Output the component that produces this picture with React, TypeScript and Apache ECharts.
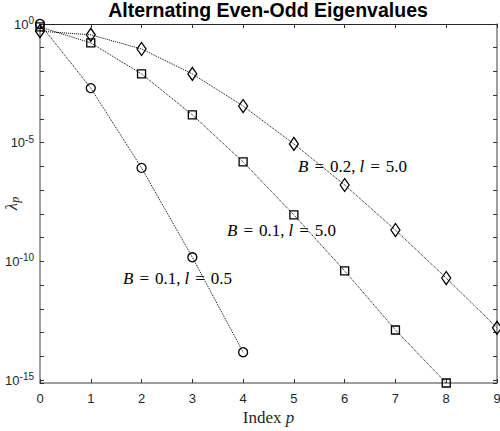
import React, { useEffect, useRef } from "react";
import * as echarts from "echarts";

const indices = [0, 1, 2, 3, 4, 5, 6, 7, 8, 9];
const seriesB01L05 = [1.0, 2.0e-3, 8.7e-7, 1.5e-10, 1.5e-14];
const seriesB01L50 = [0.75, 0.16, 7.9e-3, 1.5e-4, 1.55e-6, 9.1e-9, 4.0e-11, 1.3e-13, 7.6e-16];
const seriesB02L50 = [0.5, 0.35, 0.089, 7.9e-3, 3.5e-4, 8.9e-6, 1.66e-7, 2.1e-9, 2.0e-11, 1.6e-13];
const yMin = 7.6e-16;
const yMax = 1;
const labelDecades = [0, 5, 10, 15];

const toPairs = (vals: number[]) => vals.map((v, i) => [indices[i], v]);

// decade axis: value d means 10^-d (inverse so that 0 is at the top)
const decadeSpan = -Math.log10(yMin);
const decadeFormatter = (d: number) => {
  const r = Math.round(d);
  if (Math.abs(d - r) < 1e-6 && labelDecades.includes(r)) {
    return "10{sup|" + (r === 0 ? "0" : "-" + r) + "}";
  }
  return "";
};

export default function App() {
  const ref = useRef<HTMLDivElement>(null);
  useEffect(() => {
    if (!ref.current) return;
    const chart = echarts.init(ref.current, null, { renderer: "svg" });
    const serif = "'Liberation Serif', 'DejaVu Serif', serif";
    const sans = "'Liberation Sans', Arial, sans-serif";
    const lineStyle = { color: "#000", width: 1, type: "dotted" as const };
    const itemStyle = { color: "rgba(0,0,0,0)", borderColor: "#000", borderWidth: 1.3 };
    const mk = (name: string, vals: number[], symbol: string, size: any) => ({
      name,
      type: "line",
      xAxisIndex: 0,
      yAxisIndex: 1,
      data: toPairs(vals),
      symbol,
      symbolSize: size,
      showAllSymbol: true,
      lineStyle,
      itemStyle,
      clip: false,
      z: 3,
    });
    const annRich = {
      i: { fontFamily: serif, fontStyle: "italic", fontSize: 17, color: "#000" },
      n: { fontFamily: serif, fontSize: 17, color: "#000" },
      eq: { fontFamily: serif, fontSize: 17, color: "#000", padding: [0, 6, 0, 6] },
      c: { fontFamily: serif, fontSize: 17, color: "#000", padding: [0, 4, 0, 0] },
    };
    const ann = (x: number, y: number, b: string, l: string) => ({
      type: "text",
      x,
      y,
      z: 10,
      style: {
        text: "{i|B}{eq|=}{n|" + b + "}{c|,}{i|l}{eq|=}{n|" + l + "}",
        rich: annRich,
        verticalAlign: "middle",
      },
    });
    const decadeAxis = (position: string, showLabels: boolean, extra: any) => ({
      type: "value",
      position,
      inverse: true,
      min: 0,
      max: decadeSpan,
      interval: 1,
      axisLine: { show: true, onZero: false, lineStyle: { color: "#7f7f7f", width: 1.5 } },
      axisTick: { show: true, inside: true, length: 4, lineStyle: { color: "#333" } },
      axisLabel: showLabels
        ? {
            fontFamily: sans,
            fontSize: 13,
            color: "#262626",
            margin: 6,
            formatter: decadeFormatter,
            rich: { sup: { fontFamily: sans, fontSize: 10, verticalAlign: "top", padding: [0, 0, 7, 0], color: "#262626" } },
          }
        : { show: false },
      splitLine: { show: false },
      ...extra,
    });
    chart.setOption({
      animation: false,
      backgroundColor: "#fff",
      grid: { left: 40, right: 3, top: 24, bottom: 48, containLabel: false, outerBoundsMode: "none" },
      xAxis: [
        {
          type: "value",
          min: 0,
          max: 9,
          interval: 1,
          name: "Index {i|p}",
          nameLocation: "middle",
          nameGap: 26,
          nameMoveOverlap: false,
          nameTextStyle: {
            fontFamily: serif,
            fontSize: 17,
            color: "#262626",
            rich: { i: { fontFamily: serif, fontStyle: "italic", fontSize: 17, color: "#262626" } },
          },
          axisLine: { show: true, onZero: false, lineStyle: { color: "#7f7f7f", width: 1.5 } },
          axisTick: { show: true, inside: true, length: 4, lineStyle: { color: "#333" } },
          axisLabel: { fontFamily: sans, fontSize: 13, color: "#262626", margin: 9 },
          splitLine: { show: false },
        },
        {
          type: "value",
          position: "top",
          min: 0,
          max: 9,
          interval: 1,
          axisLine: { show: true, onZero: false, lineStyle: { color: "#262626", width: 1 } },
          axisTick: { show: true, inside: true, length: 4, lineStyle: { color: "#333" } },
          axisLabel: { show: false },
          splitLine: { show: false },
        },
      ],
      yAxis: [
        decadeAxis("left", true, {
          name: "λ{sub|p}",
          nameLocation: "middle",
          nameGap: 19,
          nameRotate: 90,
          nameMoveOverlap: false,
          nameTextStyle: {
            fontFamily: serif,
            fontStyle: "italic",
            fontSize: 17,
            color: "#262626",
            rich: { sub: { fontFamily: serif, fontStyle: "italic", fontSize: 12, verticalAlign: "bottom", padding: [8, 0, 0, 0], color: "#262626" } },
          },
        }),
        {
          type: "log",
          logBase: 10,
          position: "left",
          min: yMin,
          max: yMax,
          axisLine: { show: false },
          axisTick: { show: false },
          axisLabel: { show: false },
          splitLine: { show: false },
        },
        decadeAxis("right", false, {}),
      ],
      series: [
        mk("B=0.1, l=0.5", seriesB01L05, "circle", 9),
        mk("B=0.1, l=5.0", seriesB01L50, "rect", 8),
        mk("B=0.2, l=5.0", seriesB02L50, "diamond", [9, 13]),
      ],
      graphic: [
        {
          type: "text",
          x: 268,
          y: 10,
          z: 10,
          style: {
            text: "Alternating Even-Odd Eigenvalues",
            fontFamily: sans,
            fontWeight: "bold",
            fontSize: 19.5,
            fill: "#000",
            align: "center",
            verticalAlign: "middle",
          },
        },
        ann(298, 166, "0.2", "5.0"),
        ann(227, 230, "0.1", "5.0"),
        ann(123, 278, "0.1", "0.5"),
      ],
    });
    return () => chart.dispose();
  }, []);
  return <div ref={ref} style={{ width: 500, height: 431, position: "fixed", left: 0, top: 0 }} />;
}
